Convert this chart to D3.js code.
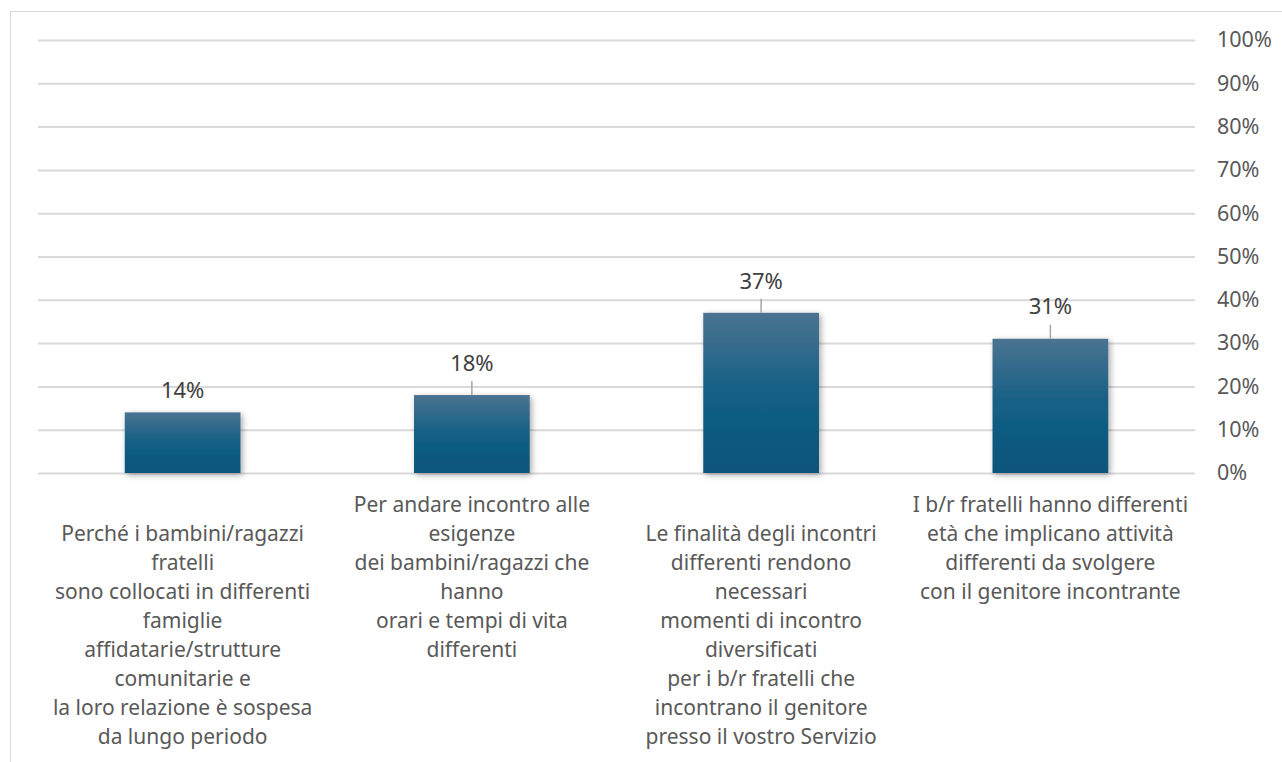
<!DOCTYPE html>
<html>
<head>
<meta charset="utf-8">
<script src="https://cdn.jsdelivr.net/npm/d3@7"></script>
<style>
  html, body { margin: 0; padding: 0; background: #ffffff; }
  svg { display: block; }
</style>
</head>
<body>
<svg id="chart" width="1282" height="762"></svg>
<script>
// Reasons given for scheduling separate meetings for siblings
const categories = [
  ["Perché i bambini/ragazzi", "fratelli", "sono collocati in differenti", "famiglie",
   "affidatarie/strutture", "comunitarie e", "la loro relazione è sospesa", "da lungo periodo"],
  ["Per andare incontro alle", "esigenze", "dei bambini/ragazzi che", "hanno",
   "orari e tempi di vita", "differenti"],
  ["Le finalità degli incontri", "differenti rendono", "necessari", "momenti di incontro",
   "diversificati", "per i b/r fratelli che", "incontrano il genitore", "presso il vostro Servizio"],
  ["I b/r fratelli hanno differenti", "età che implicano attività", "differenti da svolgere",
   "con il genitore incontrante"]
];
const values = [0.14, 0.18, 0.37, 0.31];
const tickValues = [0, 0.1, 0.2, 0.3, 0.4, 0.5, 0.6, 0.7, 0.8, 0.9, 1.0];

const svg = d3.select("#chart");
const font = "'Noto Sans', 'Liberation Sans', Arial, sans-serif";
const textColor = "#595959";

// chart frame
svg.append("rect")
  .attr("x", 10.5).attr("y", 11.5)
  .attr("width", 1300).attr("height", 800)
  .attr("fill", "#fff").attr("stroke", "#d9d9d9").attr("stroke-width", 1);

const plot = { left: 38, right: 1195, top: 40, bottom: 473 };

const x = d3.scaleBand()
  .domain(d3.range(categories.length))
  .range([plot.left, plot.right])
  .paddingInner(0.6)
  .paddingOuter(0.3);

const y = d3.scaleLinear().domain([0, 1]).range([plot.bottom, plot.top]);

// defs: bar gradient and soft shadow
const defs = svg.append("defs");
const grad = defs.append("linearGradient")
  .attr("id", "barGrad").attr("x1", 0).attr("y1", 0).attr("x2", 0).attr("y2", 1);
grad.append("stop").attr("offset", "0%").attr("stop-color", "#4b7391");
grad.append("stop").attr("offset", "50%").attr("stop-color", "#135f85");
grad.append("stop").attr("offset", "100%").attr("stop-color", "#0b5479");

const shadow = defs.append("filter").attr("id", "shadow")
  .attr("x", "-20%").attr("y", "-20%").attr("width", "140%").attr("height", "140%");
shadow.append("feGaussianBlur").attr("in", "SourceAlpha").attr("stdDeviation", 3).attr("result", "blur");
shadow.append("feOffset").attr("in", "blur").attr("dx", 2).attr("dy", 2).attr("result", "off");
shadow.append("feComponentTransfer").attr("in", "off").attr("result", "soft")
  .append("feFuncA").attr("type", "linear").attr("slope", 0.35);
const merge = shadow.append("feMerge");
merge.append("feMergeNode").attr("in", "soft");
merge.append("feMergeNode").attr("in", "SourceGraphic");

// gridlines and right-hand axis
const axis = d3.axisRight(y)
  .tickValues(tickValues)
  .tickFormat(d3.format(".0%"))
  .tickSize(-(plot.right - plot.left))
  .tickPadding(22);

const axisG = svg.append("g")
  .attr("transform", `translate(${plot.right},0)`)
  .call(axis);
axisG.select(".domain").remove();
axisG.selectAll(".tick line")
  .attr("stroke", "#d9d9d9").attr("stroke-width", 2);
axisG.selectAll(".tick text")
  .attr("fill", textColor)
  .style("font-family", font)
  .style("font-size", "21.5px");

// bars
svg.append("g").selectAll("rect")
  .data(values)
  .join("rect")
  .attr("x", (d, i) => x(i))
  .attr("y", d => y(d))
  .attr("width", x.bandwidth())
  .attr("height", d => y(0) - y(d))
  .attr("fill", "url(#barGrad)")
  .attr("filter", "url(#shadow)");

// value labels with leader lines
const labelLift = [23, 33, 33, 34];
const labels = svg.append("g");
values.forEach((v, i) => {
  const cx = x(i) + x.bandwidth() / 2;
  const top = y(v);
  if (labelLift[i] > 28) {
    labels.append("line")
      .attr("x1", cx).attr("x2", cx)
      .attr("y1", top - 14).attr("y2", top)
      .attr("stroke", "#a6a6a6").attr("stroke-width", 1.5);
  }
  labels.append("text")
    .attr("x", cx)
    .attr("y", top - labelLift[i])
    .attr("text-anchor", "middle")
    .attr("dominant-baseline", "central")
    .attr("fill", "#404040")
    .style("font-family", font)
    .style("font-size", "22px")
    .text(d3.format(".0%")(v));
});

// category labels (alternate ones sit one line lower)
const lineHeight = 29;
const catG = svg.append("g");
categories.forEach((lines, i) => {
  const cx = x(i) + x.bandwidth() / 2;
  const firstY = 504 + (i % 2 === 0 ? lineHeight : 0);
  const t = catG.append("text")
    .attr("text-anchor", "middle")
    .attr("fill", textColor)
    .style("font-family", font)
    .style("font-size", "21px");
  lines.forEach((ln, k) => {
    t.append("tspan")
      .attr("x", cx)
      .attr("y", firstY + k * lineHeight)
      .attr("dominant-baseline", "central")
      .text(ln);
  });
});
</script>
</body>
</html>
